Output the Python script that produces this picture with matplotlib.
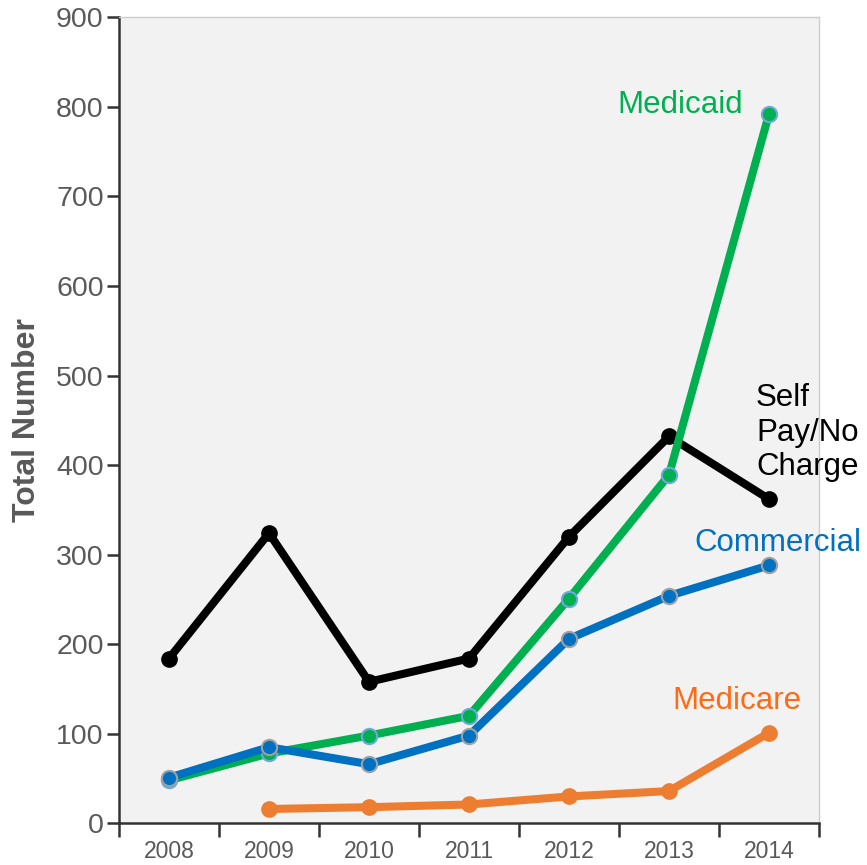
import numpy as np
import matplotlib
matplotlib.use("Agg")
import matplotlib.pyplot as plt

years = ["2008", "2009", "2010", "2011", "2012", "2013", "2014"]
self_pay = [184, 324, 158, 184, 320, 432, 362]
medicaid = [48, 78, 98, 120, 251, 389, 792]
commercial = [51, 85, 66, 98, 206, 254, 288]
medicare_years = ["2009", "2010", "2011", "2012", "2013", "2014"]
medicare = [16, 18, 21, 30, 36, 101]

plt.rcParams['font.family'] = ['Liberation Sans', 'DejaVu Sans']

fig = plt.figure(figsize=(8.67, 8.65), dpi=100)
ax = fig.add_axes([119/867, 1 - 823.3/865, 700/867, (823.3 - 17.3)/865])
ax.set_facecolor('#f2f2f2')

x = np.arange(len(years))
xm = np.array([years.index(y) for y in medicare_years])

lw = 5.8
ms = 11
c_black = '#000000'
c_green = '#00b050'
c_blue = '#0070c0'
c_orange = '#ed7d31'

ax.plot(xm, medicare, color=c_orange, lw=lw, zorder=2, solid_joinstyle='round', solid_capstyle='round')
ax.plot(xm, medicare, 'o', color=c_orange, ms=ms, mec=c_orange, zorder=2.1)

ax.plot(x, self_pay, color=c_black, lw=lw, zorder=3, solid_joinstyle='round')
ax.plot(x, self_pay, 'o', color=c_black, ms=ms, mec=c_black, zorder=3.1)

ax.plot(x, medicaid, color=c_green, lw=lw, zorder=4, solid_joinstyle='round')
ax.plot(x, medicaid, 'o', color=c_green, ms=ms, mec='#6fa8dc', mew=1.5, zorder=4.1)

ax.plot(x, commercial, color=c_blue, lw=lw, zorder=5, solid_joinstyle='round')
ax.plot(x, commercial, 'o', color=c_blue, ms=ms, mec='#a0a0a0', mew=1.5, zorder=5.1)

ax.set_xlim(-0.5, len(years) - 0.5)
ax.set_ylim(0, 900)

ax.set_xticks(np.arange(-0.5, len(years), 1.0))
ax.set_xticklabels([])
ax.set_xticks(x, minor=True)
ax.set_xticklabels(years, minor=True)
ax.tick_params(axis='x', which='major', length=10, width=1.8, color='#333333', direction='out')
ax.tick_params(axis='x', which='minor', length=0, labelsize=16.5, labelcolor='#595959', pad=12)

ax.set_yticks(np.arange(0, 901, 100))
ax.tick_params(axis='y', length=9, width=1.8, color='#333333', labelsize=20.5, labelcolor='#595959', pad=2)

for s in ['top', 'right']:
    ax.spines[s].set_color('#cccccc')
    ax.spines[s].set_linewidth(1.0)
for s in ['left', 'bottom']:
    ax.spines[s].set_color('#333333')
    ax.spines[s].set_linewidth(1.8)

ax.set_ylabel('Total Number', fontsize=23, fontweight='bold', color='#595959', labelpad=10)

tfs = 22.5
ax.text(5.74, 802, 'Medicaid', color=c_green, fontsize=tfs, ha='right', va='center')
ax.text(5.87, 436, 'Self\nPay/No\nCharge', color='black', fontsize=tfs, ha='left', va='center', linespacing=1.2)
ax.text(5.25, 313, 'Commercial', color=c_blue, fontsize=tfs, ha='left', va='center', clip_on=False)
ax.text(5.03, 137, 'Medicare', color='#ff6a13', fontsize=tfs, ha='left', va='center')

fig.savefig('out.png', dpi=100)
